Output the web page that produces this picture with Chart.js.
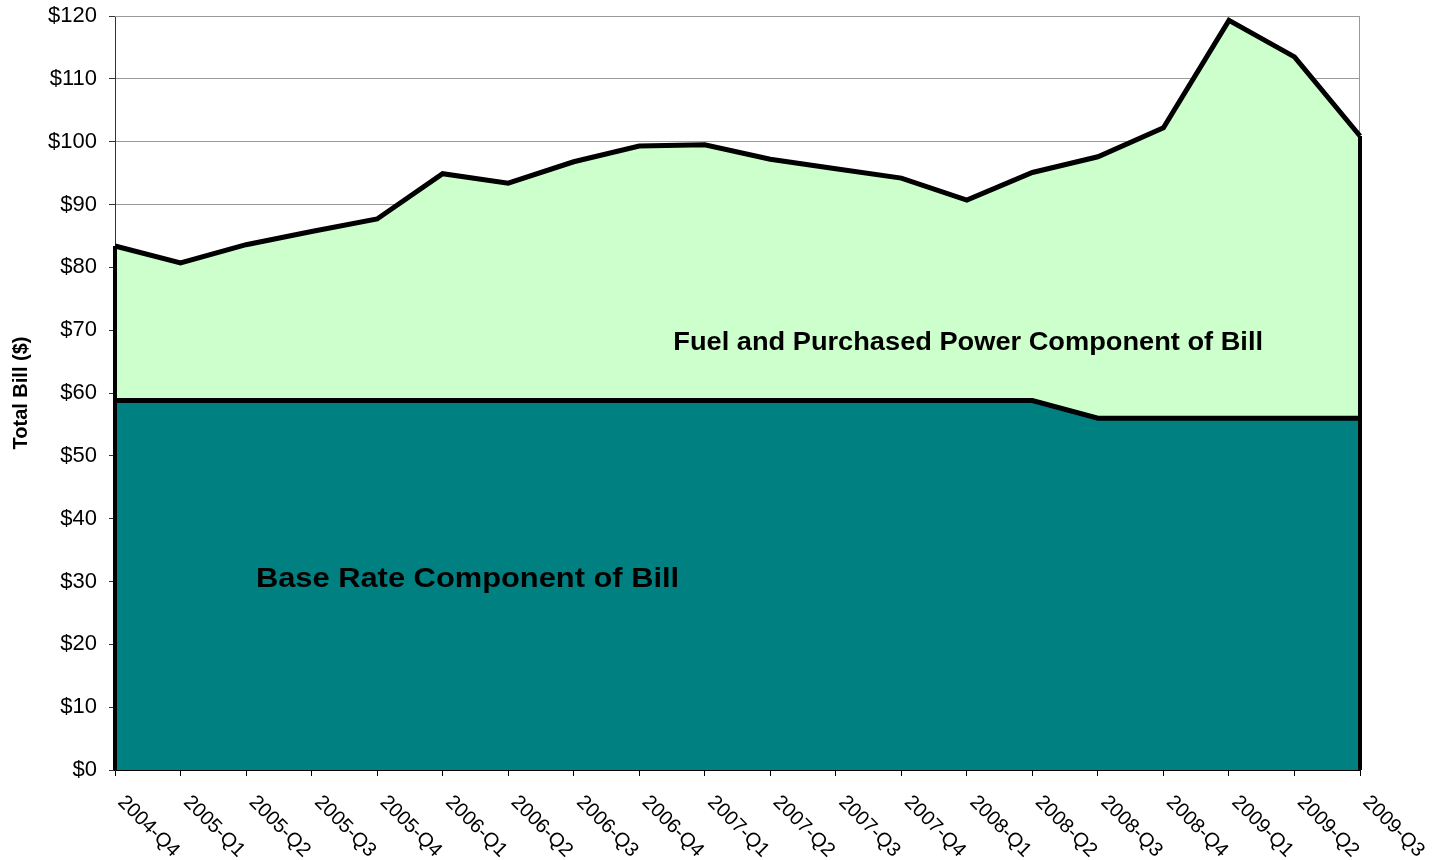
<!DOCTYPE html>
<html>
<head>
<meta charset="utf-8">
<script src="https://cdn.jsdelivr.net/npm/chart.js@4.4.1/dist/chart.umd.min.js"></script>
<style>
  html, body { margin: 0; padding: 0; background: #ffffff; overflow: hidden; }
  canvas { display: block; }
</style>
</head>
<body>
<canvas id="c" width="1441" height="860"></canvas>
<script>
const categories = ['2004-Q4','2005-Q1','2005-Q2','2005-Q3','2005-Q4','2006-Q1','2006-Q2','2006-Q3','2006-Q4','2007-Q1','2007-Q2','2007-Q3','2007-Q4','2008-Q1','2008-Q2','2008-Q3','2008-Q4','2009-Q1','2009-Q2','2009-Q3'];
const baseRate = [58.8,58.8,58.8,58.8,58.8,58.8,58.8,58.8,58.8,58.8,58.8,58.8,58.8,58.8,58.8,56.0,56.0,56.0,56.0,56.0];
const fuelPower = [24.6,21.9,24.8,26.9,28.9,36.1,34.6,38.0,40.5,40.7,38.4,36.9,35.4,31.9,36.3,41.6,46.2,63.3,57.5,44.9];
const seriesNames = ['Base Rate Component of Bill', 'Fuel and Purchased Power Component of Bill'];
const yAxisTitle = 'Total Bill ($)';

const FONT = '"Liberation Sans", Arial, sans-serif';

// Draws the closed outline edges of the stacked areas (left/right vertical sides)
const areaEdges = {
  id: 'areaEdges',
  afterDatasetsDraw(chart) {
    const ctx = chart.ctx;
    const y = chart.scales.y;
    const zero = y.getPixelForValue(0);
    const top = chart.getDatasetMeta(1).data;
    ctx.save();
    ctx.strokeStyle = '#000000';
    ctx.lineWidth = 4;
    ctx.lineCap = 'butt';
    [0, top.length - 1].forEach(i => {
      const p = top[i];
      ctx.beginPath();
      ctx.moveTo(p.x, p.y);
      ctx.lineTo(p.x, zero);
      ctx.stroke();
    });
    ctx.restore();
  }
};

// Plot-area outline (gray top/right border), drawn beneath the areas
const plotBorder = {
  id: 'plotBorder',
  beforeDatasetsDraw(chart) {
    const a = chart.chartArea;
    const ctx = chart.ctx;
    ctx.save();
    ctx.strokeStyle = '#999999';
    ctx.lineWidth = 1;
    ctx.beginPath();
    ctx.moveTo(a.left, a.top + 0.5);
    ctx.lineTo(a.right - 0.5, a.top + 0.5);
    ctx.lineTo(a.right - 0.5, a.bottom);
    ctx.stroke();
    ctx.restore();
  }
};

// Rotated category labels reading downward from each tick
const xLabels = {
  id: 'xLabels',
  afterDraw(chart) {
    const x = chart.scales.x;
    const ctx = chart.ctx;
    ctx.save();
    ctx.fillStyle = '#000000';
    ctx.font = '20px ' + FONT;
    ctx.textAlign = 'left';
    ctx.textBaseline = 'middle';
    categories.forEach((lab, i) => {
      const px = x.getPixelForTick(i);
      ctx.save();
      ctx.translate(px + 6, x.top + 29);
      ctx.rotate(Math.PI / 4);
      ctx.fillText(lab, 0, 0);
      ctx.restore();
    });
    ctx.restore();
  }
};

// Series name labels placed inside their areas (data coordinates)
const areaLabels = {
  id: 'areaLabels',
  afterDatasetsDraw(chart) {
    const xs = chart.scales.x, ys = chart.scales.y;
    const ctx = chart.ctx;
    const items = [
      { text: seriesNames[1], ix: 8.52, v: 66.9, size: 25, span: 9.0 },
      { text: seriesNames[0], ix: 2.15, v: 29.2, size: 27, span: 6.46 }
    ];
    ctx.save();
    ctx.fillStyle = '#000000';
    ctx.textAlign = 'left';
    ctx.textBaseline = 'alphabetic';
    items.forEach(it => {
      ctx.font = 'bold ' + it.size + 'px ' + FONT;
      const px = xs.getPixelForValue(it.ix);
      const py = ys.getPixelForValue(it.v);
      const target = xs.getPixelForValue(it.ix + it.span) - px;
      const w = ctx.measureText(it.text).width;
      ctx.save();
      ctx.translate(px, py);
      ctx.scale(target / w, 1);
      ctx.fillText(it.text, 0, 0);
      ctx.restore();
    });
    ctx.restore();
  }
};

new Chart(document.getElementById('c'), {
  type: 'line',
  data: {
    labels: categories,
    datasets: [
      {
        label: seriesNames[0],
        data: baseRate,
        backgroundColor: '#008080',
        borderColor: '#000000',
        borderWidth: 5,
        borderJoinStyle: 'miter',
        fill: 'origin',
        pointRadius: 0,
        tension: 0
      },
      {
        label: seriesNames[1],
        data: fuelPower,
        backgroundColor: '#CCFFCC',
        borderColor: '#000000',
        borderWidth: 5,
        borderJoinStyle: 'miter',
        fill: '-1',
        pointRadius: 0,
        tension: 0
      }
    ]
  },
  options: {
    responsive: false,
    devicePixelRatio: 1,
    animation: false,
    layout: { padding: { top: 16, right: 81, bottom: 0, left: 0 } },
    plugins: {
      legend: { display: false },
      tooltip: { enabled: false },
      title: { display: false }
    },
    scales: {
      x: {
        type: 'category',
        offset: false,
        grid: {
          display: true,
          drawOnChartArea: false,
          drawTicks: true,
          tickLength: 6,
          tickColor: '#000000'
        },
        border: { display: true, color: '#000000', width: 2 },
        ticks: { display: false, autoSkip: false },
        afterFit(s) { s.height = 90; s.paddingLeft = 0; s.paddingRight = 0; }
      },
      y: {
        stacked: true,
        min: 0,
        max: 120,
        grid: {
          color: '#999999',
          lineWidth: 1,
          drawTicks: true,
          tickLength: 6,
          tickColor: '#333333'
        },
        border: { display: true, color: '#333333', width: 1 },
        ticks: {
          stepSize: 10,
          padding: 12,
          color: '#000000',
          font: { family: FONT, size: 22 },
          callback: v => '$' + v
        },
        title: {
          display: true,
          text: yAxisTitle,
          color: '#000000',
          font: { family: FONT, size: 20, weight: 'bold' },
          padding: { top: 9, bottom: 0 }
        },
        afterFit(s) { s.width = 115; s.paddingTop = 0; s.paddingBottom = 0; }
      }
    }
  },
  plugins: [plotBorder, areaEdges, areaLabels, xLabels]
});
</script>
</body>
</html>
